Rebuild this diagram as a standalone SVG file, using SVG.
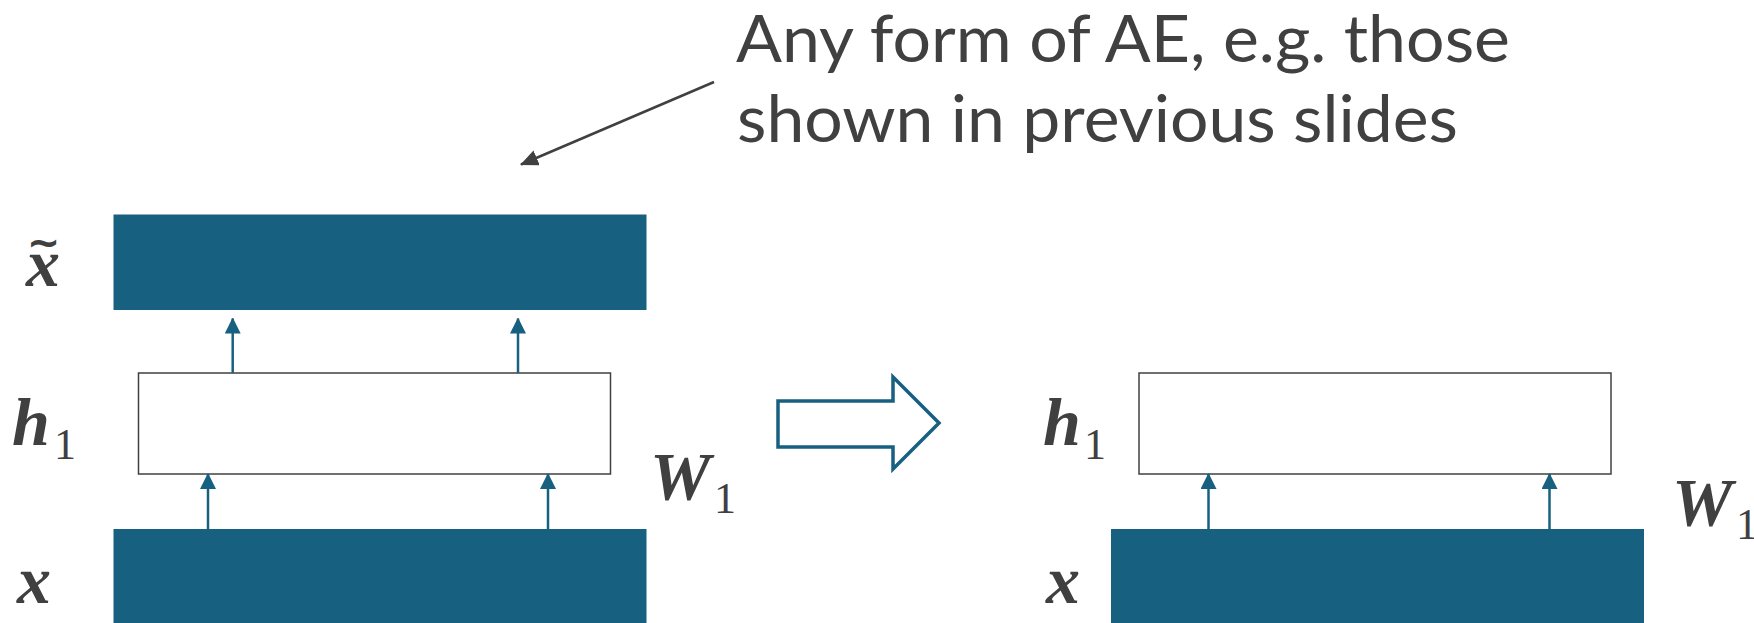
<svg xmlns="http://www.w3.org/2000/svg" width="1754" height="623" viewBox="0 0 1754 623">
<defs>
<style>
.layer{fill:#17607F;stroke:none}
.hidden{fill:#FFFFFF;stroke:#404040;stroke-width:1.5}
.conn{stroke:#17607F;stroke-width:2.5;fill:none}
.ptr{stroke:#404040;stroke-width:2.5;fill:none}
.math{font-family:"Liberation Serif","DejaVu Serif",serif;font-weight:bold;font-style:italic;font-size:68px;fill:#404040}
.sub{font-family:"Liberation Serif","DejaVu Serif",serif;font-size:44px;fill:#404040}
.note{font-family:Lato,"Open Sans",sans-serif;font-size:66px;fill:#404040}
</style>
<marker id="ah" viewBox="0 0 16 16" refX="15" refY="8" markerWidth="16" markerHeight="16" markerUnits="userSpaceOnUse" orient="auto">
<path d="M0,0 L16,8 L0,16 Z" fill="#17607F"/>
</marker>
<marker id="ahp" viewBox="0 0 18 16" refX="17" refY="8" markerWidth="18" markerHeight="16" markerUnits="userSpaceOnUse" orient="auto">
<path d="M0,0 L18,8 L0,16 Z" fill="#404040"/>
</marker>
</defs>
<rect width="1754" height="623" fill="#FFFFFF"/>

<g id="left-xtilde">
<rect class="layer" x="113.5" y="214.5" width="533" height="95.5"/>
<text class="math" x="26" y="286">x<tspan dx="-33" dy="-30" font-family="DejaVu Sans, sans-serif" font-size="40" font-weight="bold" font-style="normal">∼</tspan></text>
</g>
<g id="left-h1">
<rect class="hidden" x="138.5" y="373" width="472" height="101"/>
<text class="math" x="12" y="445">h</text>
<text class="sub" x="54" y="459">1</text>
</g>
<g id="left-x">
<rect class="layer" x="113.5" y="529" width="533" height="100"/>
<text class="math" x="17" y="603">x</text>
</g>
<g id="left-W1">
<text class="math" x="650" y="499">W</text>
<text class="sub" x="714" y="513">1</text>
</g>

<g id="transform-arrow">
<polygon points="778,401 893,401 893,377 939,423 893,469 893,447 778,447" fill="#FFFFFF" stroke="#17607F" stroke-width="3.5"/>
</g>

<g id="right-h1">
<rect class="hidden" x="1139" y="373" width="472" height="101"/>
<text class="math" x="1043" y="445">h</text>
<text class="sub" x="1084" y="459">1</text>
</g>
<g id="right-x">
<rect class="layer" x="1111" y="529" width="533" height="100"/>
<text class="math" x="1046" y="603">x</text>
</g>
<g id="right-W1">
<text class="math" x="1672" y="525">W</text>
<text class="sub" x="1736" y="539">1</text>
</g>

<g id="note">
<text class="note" x="736" y="62" textLength="774" lengthAdjust="spacingAndGlyphs">Any form of AE, e.g. those</text>
<text class="note" x="737" y="142" textLength="721" lengthAdjust="spacingAndGlyphs">shown in previous slides</text>
</g>

<g id="connectors">
<line class="conn" x1="232.7" y1="373" x2="232.7" y2="318.5" marker-end="url(#ah)"/>
<line class="conn" x1="518" y1="373" x2="518" y2="318.5" marker-end="url(#ah)"/>
<line class="conn" x1="208" y1="529" x2="208" y2="474" marker-end="url(#ah)"/>
<line class="conn" x1="548" y1="529" x2="548" y2="474" marker-end="url(#ah)"/>
<line class="conn" x1="1208.5" y1="529" x2="1208.5" y2="474" marker-end="url(#ah)"/>
<line class="conn" x1="1549.5" y1="529" x2="1549.5" y2="474" marker-end="url(#ah)"/>
<line class="ptr" x1="714" y1="82" x2="521" y2="164.5" marker-end="url(#ahp)"/>
</g>
</svg>
